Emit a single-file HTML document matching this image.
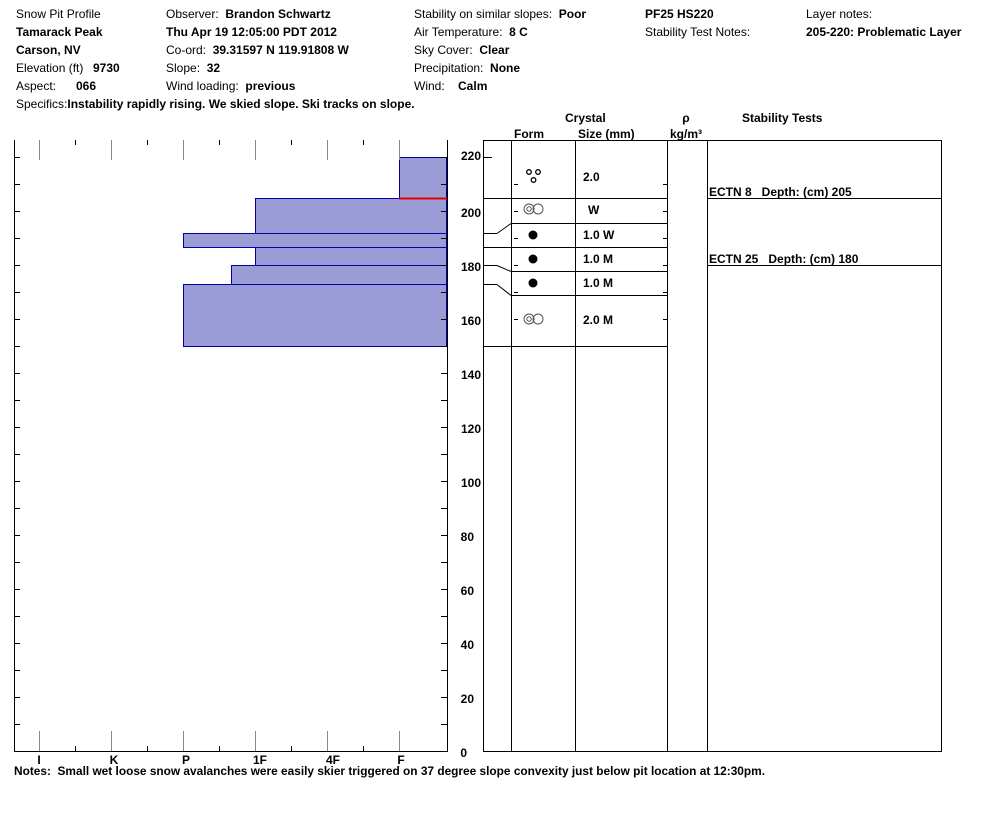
<!DOCTYPE html>
<html><head><meta charset="utf-8"><style>
body{margin:0;background:#fff;width:994px;height:840px;overflow:hidden}
svg{display:block}
text{font-family:"Liberation Sans",Arial,sans-serif;font-size:12px;fill:#000;white-space:pre}
.b{font-weight:bold}
</style></head><body>
<svg width="994" height="840" viewBox="0 0 994 840">
<g>
<text x="16" y="18">Snow Pit Profile</text>
<text x="16" y="36" class="b">Tamarack Peak</text>
<text x="16" y="54" class="b">Carson, NV</text>
<text x="16" y="72">Elevation (ft)</text><text x="93" y="72" class="b">9730</text>
<text x="16" y="90">Aspect:</text><text x="76" y="90" class="b">066</text>
<text x="16" y="108">Specifics:<tspan class="b">Instability rapidly rising. We skied slope. Ski tracks on slope.</tspan></text>
<text x="166" y="18">Observer:  <tspan class="b">Brandon Schwartz</tspan></text>
<text x="166" y="36" class="b">Thu Apr 19 12:05:00 PDT 2012</text>
<text x="166" y="54">Co-ord:  <tspan class="b">39.31597 N 119.91808 W</tspan></text>
<text x="166" y="72">Slope:  <tspan class="b">32</tspan></text>
<text x="166" y="90">Wind loading:  <tspan class="b">previous</tspan></text>
<text x="414" y="18">Stability on similar slopes:  <tspan class="b">Poor</tspan></text>
<text x="414" y="36">Air Temperature:  <tspan class="b">8 C</tspan></text>
<text x="414" y="54">Sky Cover:  <tspan class="b">Clear</tspan></text>
<text x="414" y="72">Precipitation:  <tspan class="b">None</tspan></text>
<text x="414" y="90">Wind:    <tspan class="b">Calm</tspan></text>
<text x="645" y="18" class="b">PF25 HS220</text>
<text x="645" y="36">Stability Test Notes:</text>
<text x="806" y="18">Layer notes:</text>
<text x="806" y="36" class="b">205-220: Problematic Layer</text>
</g>
<g fill="#9b9bd6" stroke="#0000a0" stroke-width="1">
<rect x="399.5" y="157.5" width="47" height="41"/>
<rect x="255.5" y="198.5" width="191" height="35"/>
<rect x="183.5" y="233.5" width="263" height="14"/>
<rect x="255.5" y="247.5" width="191" height="18"/>
<rect x="231.5" y="265.5" width="215" height="19"/>
<rect x="183.5" y="284.5" width="263" height="62"/>
</g>
<line x1="399" y1="198.5" x2="447" y2="198.5" stroke="#e00000" stroke-width="2"/>
<g stroke="#000" stroke-width="1" fill="none">
<polyline points="14.5,140 14.5,751.5 447.5,751.5 447.5,140"/>
</g>
<g id="tk" stroke="#000" stroke-width="1">
<line x1="14" y1="724.5" x2="20" y2="724.5"/><line x1="14" y1="697.5" x2="20" y2="697.5"/><line x1="14" y1="670.5" x2="20" y2="670.5"/><line x1="14" y1="643.5" x2="20" y2="643.5"/><line x1="14" y1="616.5" x2="20" y2="616.5"/><line x1="14" y1="589.5" x2="20" y2="589.5"/><line x1="14" y1="562.5" x2="20" y2="562.5"/><line x1="14" y1="535.5" x2="20" y2="535.5"/><line x1="14" y1="508.5" x2="20" y2="508.5"/><line x1="14" y1="481.5" x2="20" y2="481.5"/><line x1="14" y1="454.5" x2="20" y2="454.5"/><line x1="14" y1="427.5" x2="20" y2="427.5"/><line x1="14" y1="400.5" x2="20" y2="400.5"/><line x1="14" y1="373.5" x2="20" y2="373.5"/><line x1="14" y1="346.5" x2="20" y2="346.5"/><line x1="14" y1="319.5" x2="20" y2="319.5"/><line x1="14" y1="292.5" x2="20" y2="292.5"/><line x1="14" y1="265.5" x2="20" y2="265.5"/><line x1="14" y1="238.5" x2="20" y2="238.5"/><line x1="14" y1="211.5" x2="20" y2="211.5"/><line x1="14" y1="184.5" x2="20" y2="184.5"/><line x1="14" y1="157.5" x2="20" y2="157.5"/>
</g>
<use href="#tk" x="427"/>
<g stroke="#888" stroke-width="1">
<line x1="39.5" y1="140" x2="39.5" y2="160"/><line x1="111.5" y1="140" x2="111.5" y2="160"/><line x1="183.5" y1="140" x2="183.5" y2="160"/><line x1="255.5" y1="140" x2="255.5" y2="160"/><line x1="327.5" y1="140" x2="327.5" y2="160"/><line x1="399.5" y1="140" x2="399.5" y2="160"/>
<line x1="39.5" y1="731" x2="39.5" y2="751"/><line x1="111.5" y1="731" x2="111.5" y2="751"/><line x1="183.5" y1="731" x2="183.5" y2="751"/><line x1="255.5" y1="731" x2="255.5" y2="751"/><line x1="327.5" y1="731" x2="327.5" y2="751"/><line x1="399.5" y1="731" x2="399.5" y2="751"/>
</g>
<g stroke="#000" stroke-width="1">
<line x1="75.5" y1="140" x2="75.5" y2="145"/><line x1="147.5" y1="140" x2="147.5" y2="145"/><line x1="219.5" y1="140" x2="219.5" y2="145"/><line x1="291.5" y1="140" x2="291.5" y2="145"/><line x1="363.5" y1="140" x2="363.5" y2="145"/>
<line x1="75.5" y1="746" x2="75.5" y2="751"/><line x1="147.5" y1="746" x2="147.5" y2="751"/><line x1="219.5" y1="746" x2="219.5" y2="751"/><line x1="291.5" y1="746" x2="291.5" y2="751"/><line x1="363.5" y1="746" x2="363.5" y2="751"/>
</g>
<g text-anchor="middle">
<text x="39" y="764" class="b">I</text><text x="114" y="764" class="b">K</text><text x="186" y="764" class="b">P</text><text x="260" y="764" class="b">1F</text><text x="333" y="764" class="b">4F</text><text x="401" y="764" class="b">F</text>
</g>
<g text-anchor="end">
<text x="481" y="160" class="b">220</text><text x="481" y="217" class="b">200</text><text x="481" y="271" class="b">180</text><text x="481" y="325" class="b">160</text><text x="481" y="379" class="b">140</text><text x="481" y="433" class="b">120</text><text x="481" y="487" class="b">100</text><text x="474" y="541" class="b">80</text><text x="474" y="595" class="b">60</text><text x="474" y="649" class="b">40</text><text x="474" y="703" class="b">20</text><text x="467" y="757" class="b">0</text>
</g>
<text x="14" y="775" class="b" textLength="751" lengthAdjust="spacingAndGlyphs">Notes:  Small wet loose snow avalanches were easily skier triggered on 37 degree slope convexity just below pit location at 12:30pm.</text>
<g stroke="#000" stroke-width="1" fill="none">
<rect x="483.5" y="140.5" width="458" height="611"/>
<line x1="511.5" y1="140" x2="511.5" y2="751"/>
<line x1="575.5" y1="140" x2="575.5" y2="751"/>
<line x1="667.5" y1="140" x2="667.5" y2="751"/>
<line x1="707.5" y1="140" x2="707.5" y2="751"/>
<line x1="483" y1="198.5" x2="667" y2="198.5"/>
<line x1="511" y1="223.5" x2="667" y2="223.5"/>
<line x1="483" y1="247.5" x2="667" y2="247.5"/>
<line x1="511" y1="271.5" x2="667" y2="271.5"/>
<line x1="511" y1="295.5" x2="667" y2="295.5"/>
<line x1="483" y1="346.5" x2="667" y2="346.5"/>
<line x1="707" y1="198.5" x2="941" y2="198.5"/>
<line x1="707" y1="265.5" x2="941" y2="265.5"/>
<line x1="483" y1="233.5" x2="497" y2="233.5"/><line x1="497" y1="233.5" x2="511" y2="223.5"/>
<line x1="483" y1="265.5" x2="497" y2="265.5"/><line x1="497" y1="265.5" x2="511" y2="271.5"/>
<line x1="483" y1="284.5" x2="497" y2="284.5"/><line x1="497" y1="284.5" x2="511" y2="295.5"/>
<line x1="483" y1="157.5" x2="492" y2="157.5"/>
<line x1="514" y1="184.5" x2="518" y2="184.5"/><line x1="514" y1="211.5" x2="518" y2="211.5"/><line x1="514" y1="238.5" x2="518" y2="238.5"/><line x1="514" y1="265.5" x2="518" y2="265.5"/><line x1="514" y1="292.5" x2="518" y2="292.5"/><line x1="514" y1="319.5" x2="518" y2="319.5"/>
<line x1="663" y1="184.5" x2="667" y2="184.5"/><line x1="663" y1="211.5" x2="667" y2="211.5"/><line x1="663" y1="238.5" x2="667" y2="238.5"/><line x1="663" y1="265.5" x2="667" y2="265.5"/><line x1="663" y1="292.5" x2="667" y2="292.5"/><line x1="663" y1="319.5" x2="667" y2="319.5"/>
</g>
<text x="565" y="122" class="b">Crystal</text>
<text x="514" y="138" class="b">Form</text>
<text x="578" y="138" class="b">Size (mm)</text>
<text x="686" y="122" class="b" text-anchor="middle">ρ</text>
<text x="686" y="138" class="b" text-anchor="middle">kg/m³</text>
<text x="742" y="122" class="b">Stability Tests</text>
<g stroke="#000" stroke-width="1.3" fill="none">
<circle cx="529" cy="172" r="2.3"/><circle cx="538" cy="172" r="2.3"/><circle cx="533.5" cy="180" r="2.3"/>
</g>
<g stroke="#555" stroke-width="1" fill="none">
<circle cx="529" cy="209" r="5"/><circle cx="529" cy="209" r="2.2"/><circle cx="538" cy="209" r="5"/>
<circle cx="529" cy="319" r="5"/><circle cx="529" cy="319" r="2.2"/><circle cx="538" cy="319" r="5"/>
</g>
<g fill="#000"><circle cx="533" cy="235" r="4.5"/><circle cx="533" cy="259" r="4.5"/><circle cx="533" cy="283" r="4.5"/></g>
<text x="583" y="181" class="b">2.0</text>
<text x="588" y="214" class="b">W</text>
<text x="583" y="239" class="b">1.0 W</text>
<text x="583" y="263" class="b">1.0 M</text>
<text x="583" y="287" class="b">1.0 M</text>
<text x="583" y="324" class="b">2.0 M</text>
<text x="709" y="196" class="b">ECTN 8   Depth: (cm) 205</text>
<text x="709" y="263" class="b">ECTN 25   Depth: (cm) 180</text>
</svg>
</body></html>
